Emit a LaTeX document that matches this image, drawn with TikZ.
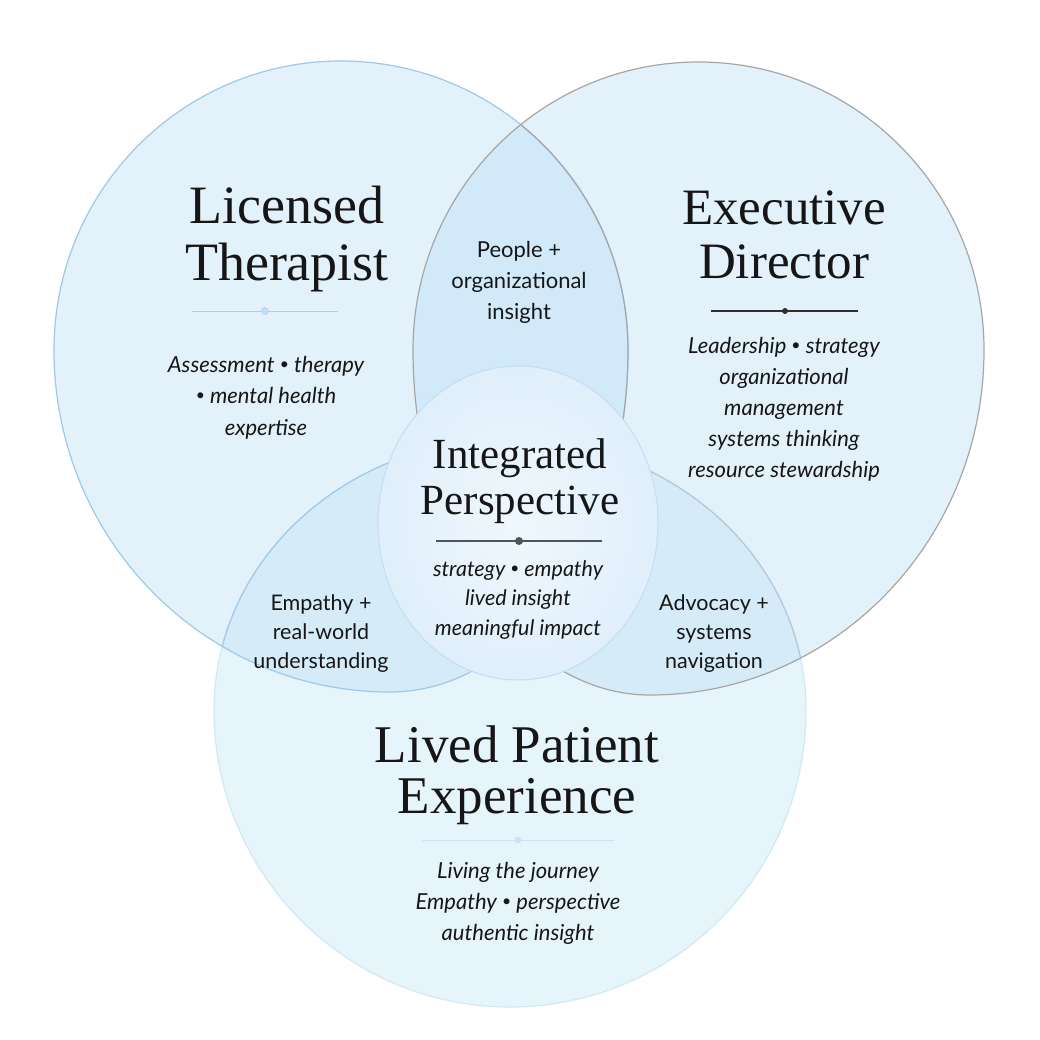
\documentclass[tikz,border=0pt]{standalone}
\usepackage{fontspec}
\setmainfont{Liberation Serif}
\newfontfamily\bodyfont{Lato}
\newcommand\smbul{\raisebox{0.12em}{\scalebox{0.72}{•}}}
\definecolor{circtopc}{HTML}{B9DDF7}
\definecolor{circbotc}{HTML}{C1E5F5}
\definecolor{edgeblue}{HTML}{9DC9EC}
\definecolor{edgegray}{HTML}{A6A6A6}
\definecolor{edgefaint}{HTML}{D2E9F4}
\definecolor{edgeslate}{HTML}{B4C6D8}
\definecolor{inkc}{HTML}{161616}
\definecolor{cenin}{HTML}{EFF7FE}
\definecolor{cenout}{HTML}{E0EFFB}
\definecolor{cenedge}{HTML}{C3DDF2}
\definecolor{divblue}{HTML}{A9CFEE}
\definecolor{divdark}{HTML}{2E2E2E}
\definecolor{divmid}{HTML}{50555B}
\definecolor{divpale}{HTML}{CDE4F4}
\begin{document}
\begin{tikzpicture}[x=1pt,y=-1pt,
  leftshape/.style={insert path={(54,350) arc[start angle=180,end angle=360,x radius=287,y radius=289]
      arc[start angle=0,end angle=90,x radius=238,y radius=342]
      arc[start angle=90,end angle=180,x radius=336,y radius=342] -- cycle}},
  rightshape/.style={insert path={(413,350) arc[start angle=180,end angle=360,x radius=285.5,y radius=288]
      arc[start angle=0,end angle=90,x radius=334,y radius=345]
      arc[start angle=90,end angle=180,x radius=237,y radius=345] -- cycle}},
  botshape/.style={insert path={(214,710) arc[start angle=180,end angle=360,x radius=296,y radius=271]
      arc[start angle=0,end angle=180,x radius=296,y radius=297] -- cycle}},
  ttl/.style={font={\fontsize{54}{57}\selectfont}, text=inkc, align=center, inner sep=0pt, anchor=base},
  bdy/.style={font={\bodyfont\itshape\fontsize{22}{31.5}\selectfont}, text=inkc, align=center, inner sep=0pt, anchor=base},
  ovl/.style={font={\bodyfont\fontsize{22}{31}\selectfont}, text=inkc, align=center, inner sep=0pt, anchor=base},
  dotnode/.style={circle, inner sep=0pt, minimum size=7pt}
]
\useasboundingbox (0,0) rectangle (1040,1040);
\fill[white] (0,0) rectangle (1040,1040);

% fills
\fill[circtopc, fill opacity=0.4, leftshape];
\fill[circtopc, fill opacity=0.4, rightshape];
\fill[circbotc, fill opacity=0.4, botshape];

% outlines
\draw[edgefaint, line width=1.2pt, botshape];
\begin{scope}
  \clip[leftshape];
  \draw[edgeblue, line width=1.2pt, botshape];
\end{scope}
\begin{scope}
  \clip[rightshape];
  \draw[edgeslate, line width=1.2pt, botshape];
\end{scope}
\draw[edgeblue, line width=1.2pt, leftshape];
\draw[edgegray, line width=1.2pt, rightshape];
\begin{scope}
  \clip[rightshape];
  \draw[edgegray, line width=1.2pt, leftshape];
\end{scope}

% central ellipse
\shade[inner color=cenin, outer color=cenout] (518,523) ellipse [x radius=140, y radius=157];
\draw[cenedge, line width=1pt] (518,523) ellipse [x radius=140, y radius=157];

% titles (anchor = baseline of last line)
\node[ttl] (lt) at (287,280) {Licensed\\Therapist};
\node[ttl, font={\fontsize{51}{54}\selectfont}] (ed) at (784,279) {Executive\\Director};
\node[ttl, font={\fontsize{43}{46}\selectfont}] (ip) at (520,514) {Integrated\\Perspective};
\node[ttl, font={\fontsize{53}{51}\selectfont}] (lp) at (517,813) {Lived Patient\\Experience};

% dividers
\coordinate (ltL) at (192,311); \coordinate (ltR) at (338,311);
\draw[divblue, line width=1pt] (ltL) -- (ltR);
\node[dotnode, fill=divblue!70, draw=divblue] (ltD) at (265,311) {};

\coordinate (edL) at (711,311); \coordinate (edR) at (858,311);
\draw[divdark, line width=1.2pt] (edL) -- (edR);
\node[dotnode, fill=divdark, minimum size=6pt] (edD) at (785,311) {};

\coordinate (ipL) at (436,541); \coordinate (ipR) at (602,541);
\draw[divmid, line width=2pt] (ipL) -- (ipR);
\node[dotnode, fill=divmid, minimum size=8pt] (ipD) at (519,541) {};

\coordinate (lpL) at (422,840); \coordinate (lpR) at (614,840);
\draw[divpale, line width=1pt] (lpL) -- (lpR);
\node[dotnode, fill=divpale, minimum size=7pt] (lpD) at (518,840) {};

% body texts
\node[bdy] (ltb) at (266,435) {Assessment \smbul{} therapy\\\smbul{} mental health\\expertise};
\node[bdy, font={\bodyfont\itshape\fontsize{22}{31}\selectfont}] (edb) at (784,477) {Leadership \smbul{} strategy\\organizational\\management\\systems thinking\\resource stewardship};
\node[bdy, font={\bodyfont\itshape\fontsize{21.5}{29.5}\selectfont}] (ipb) at (518,635) {strategy \smbul{} empathy\\lived insight\\meaningful impact};
\node[bdy, font={\bodyfont\itshape\fontsize{22}{31}\selectfont}] (lpb) at (518,940) {Living the journey\\Empathy \smbul{} perspective\\authentic insight};

% overlap labels
\node[ovl] (ov1) at (519,319) {People +\\organizational\\insight};
\node[ovl, font={\bodyfont\fontsize{21.5}{29}\selectfont}] (ov2) at (321,668) {Empathy +\\real-world\\understanding};
\node[ovl, font={\bodyfont\fontsize{21.5}{29}\selectfont}] (ov3) at (714,668) {Advocacy +\\systems\\navigation};
\end{tikzpicture}
\end{document}
